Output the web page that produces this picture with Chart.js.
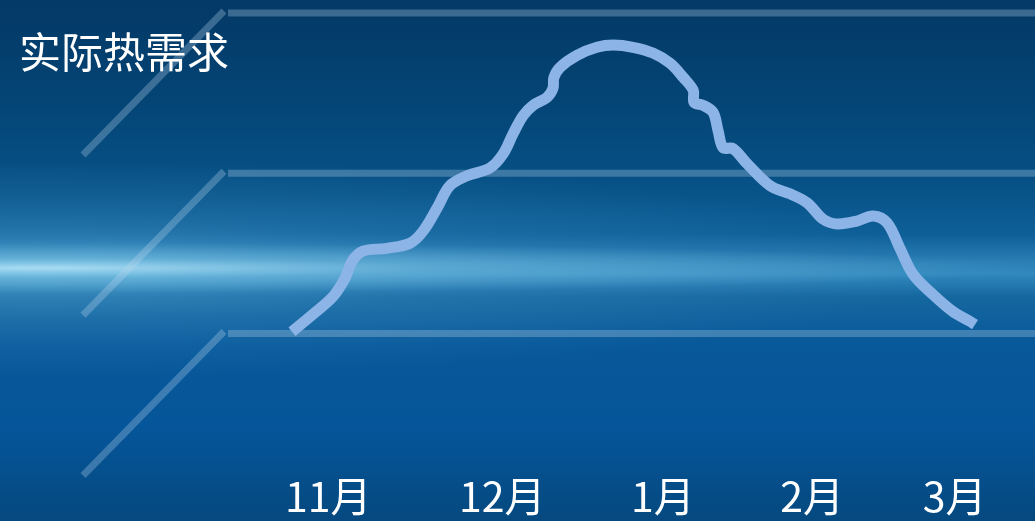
<!DOCTYPE html>
<html>
<head>
<meta charset="utf-8">
<script src="https://cdn.jsdelivr.net/npm/chart.js@4/dist/chart.umd.min.js"></script>
<style>
    html, body { margin: 0; padding: 0; background: #04477c; }
    #wrap { width: 1035px; height: 521px; }
</style>
</head>
<body>
<div id="wrap"><canvas id="heatChart" width="1035" height="521"></canvas></div>
<script>
// Heating season, day 0 = 1 Nov, day 151 = 31 Mar
const chartTitle = "实际热需求";
const monthLabels = ["11月", "12月", "1月", "2月", "3月"];
const monthDays = [8, 46.5, 82, 115, 146.5];
const gridLevels = [0, 50, 100];

// Actual heat demand (relative, 0-100)
const seasonDays = [
    0, 4.6, 9.1, 11.7, 13.3, 15.7, 21.0, 26.1, 29.0, 32.1,
    34.9, 38.7, 43.8, 46.7, 48.9, 51.1, 53.3, 56.4, 57.7, 57.9,
    59.3, 63.0, 67.4, 71.0, 75.4, 79.8, 83.6, 86.5, 88.7, 88.9,
    90.9, 93.1, 94.2, 95.3, 97.5, 100.6, 105.7, 110.1, 113.9, 117.4,
    120.5, 124.9, 128.5, 131.6, 134.4, 137.3, 141.7, 146.1, 149.9, 151.0
];
const demand = [
    0.6, 6.0, 11.6, 17.2, 22.6, 25.7, 26.6, 28.2, 32.0, 39.2,
    46.1, 49.2, 51.7, 56.1, 62.4, 68.0, 71.2, 73.7, 76.5, 79.9,
    83.1, 86.8, 89.3, 90.0, 89.3, 87.5, 84.3, 79.9, 75.9, 72.1,
    71.2, 69.0, 63.3, 58.0, 57.7, 53.0, 46.1, 43.6, 40.8, 35.7,
    34.2, 35.1, 36.7, 34.5, 26.6, 18.5, 12.2, 6.9, 3.8, 2.8
];

const FONT = '"Noto Sans CJK SC", "Noto Sans", sans-serif';

// blue backdrop with the bright horizontal streak
const backdrop = {
    id: "backdrop",
    beforeDraw(chart) {
        const { ctx, width, height } = chart;
        ctx.save();
        const g = ctx.createLinearGradient(0, 0, 0, height);
        g.addColorStop(0.00, "#033966");
        g.addColorStop(0.20, "#044576");
        g.addColorStop(0.36, "#075287");
        g.addColorStop(0.45, "#0e5f98");
        g.addColorStop(0.505, "#2b80b6");
        g.addColorStop(0.525, "#3189be");
        g.addColorStop(0.57, "#15679f");
        g.addColorStop(0.66, "#08599a");
        g.addColorStop(0.82, "#05559a");
        g.addColorStop(1.00, "#05497f");
        ctx.fillStyle = g;
        ctx.fillRect(0, 0, width, height);

        const bandY = 268;
        // wide soft glow
        ctx.save();
        ctx.translate(0, bandY);
        ctx.scale(1, 0.12);
        let r = ctx.createRadialGradient(40, 0, 0, 40, 0, 900);
        r.addColorStop(0, "rgba(120,200,235,0.45)");
        r.addColorStop(0.5, "rgba(90,170,220,0.18)");
        r.addColorStop(1, "rgba(90,170,220,0)");
        ctx.fillStyle = r;
        ctx.fillRect(-100, -1000, width + 200, 2000);
        ctx.restore();
        // thin bright core
        ctx.save();
        ctx.translate(0, bandY);
        ctx.scale(1, 0.025);
        r = ctx.createRadialGradient(40, 0, 0, 40, 0, 1000);
        r.addColorStop(0, "rgba(200,240,255,0.75)");
        r.addColorStop(0.4, "rgba(150,215,240,0.35)");
        r.addColorStop(1, "rgba(150,215,240,0)");
        ctx.fillStyle = r;
        ctx.fillRect(-100, -1200, width + 200, 2400);
        ctx.restore();
        ctx.restore();
    }
};

// level lines with their slanted lead-ins, plus the title
const levelLines = {
    id: "levelLines",
    beforeDatasetsDraw(chart) {
        const { ctx, width, scales: { y } } = chart;
        ctx.save();
        ctx.strokeStyle = "rgba(190,215,240,0.3)";
        ctx.lineWidth = 7;
        ctx.lineCap = "butt";
        gridLevels.forEach(level => {
            const py = y.getPixelForValue(level);
            ctx.beginPath();
            ctx.moveTo(228, py);
            ctx.lineTo(width, py);
            ctx.stroke();
            ctx.beginPath();
            ctx.moveTo(224, py - 2);
            ctx.lineTo(83, py + 142);
            ctx.stroke();
        });
        ctx.restore();
    },
    afterDraw(chart) {
        const { ctx } = chart;
        ctx.save();
        ctx.fillStyle = "#ffffff";
        ctx.font = "42px " + FONT;
        ctx.textBaseline = "middle";
        ctx.fillText(chartTitle, 19, 52);
        ctx.restore();
    }
};

new Chart(document.getElementById("heatChart"), {
    type: "line",
    data: {
        datasets: [{
            label: chartTitle,
            data: seasonDays.map((d, i) => ({ x: d, y: demand[i] })),
            borderColor: "#8db4e6",
            borderWidth: 11,
            pointRadius: 0,
            tension: 0.35,
            fill: false,
            clip: false
        }]
    },
    options: {
        responsive: false,
        animation: false,
        layout: { padding: { left: 292, right: 60, top: 13, bottom: -10 } },
        plugins: {
            legend: { display: false },
            tooltip: { enabled: false }
        },
        scales: {
            x: {
                type: "linear",
                min: 0,
                max: 151,
                grid: { display: false, drawTicks: false },
                border: { display: false },
                afterBuildTicks: (scale) => {
                    scale.ticks = monthDays.map(v => ({ value: v }));
                },
                ticks: {
                    autoSkip: false,
                    maxRotation: 0,
                    color: "#ffffff",
                    padding: 10,
                    font: { family: FONT, size: 41 },
                    callback: (value, index) => monthLabels[index]
                }
            },
            y: {
                min: -40,
                max: 100,
                display: false
            }
        }
    },
    plugins: [backdrop, levelLines]
});
</script>
</body>
</html>
